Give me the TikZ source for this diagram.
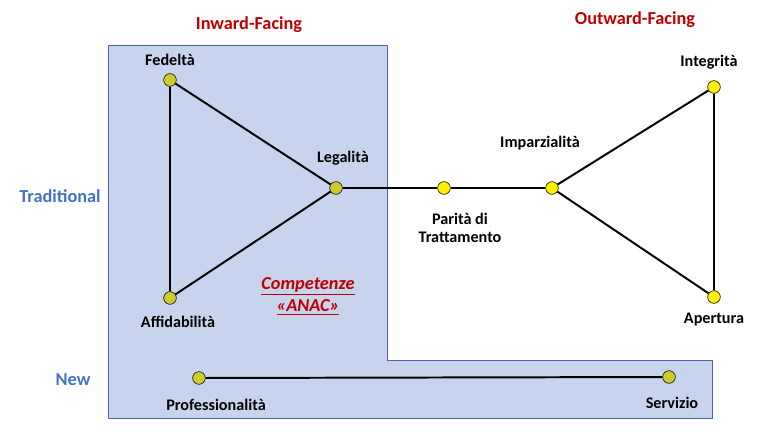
\documentclass[tikz,border=0pt]{standalone}
\usepackage{fontspec}
\setmainfont{Carlito}
\usepackage{tikz}
\usetikzlibrary{arrows.meta}
\definecolor{boxfill}{RGB}{200,212,238}
\definecolor{boxline}{RGB}{80,100,170}
\definecolor{olivedot}{RGB}{205,205,50}
\definecolor{headred}{RGB}{192,0,0}
\definecolor{rowblue}{RGB}{68,114,196}
\tikzset{
  dot/.style={circle,draw=black,thin,minimum size=9pt,inner sep=0pt},
  lbl/.style={font=\fontsize{11.5}{13}\selectfont\bfseries,align=center},
  edge/.style={line width=1.4pt}
}
\begin{document}
\begin{tikzpicture}[x=0.025cm,y=-0.025cm]
    \useasboundingbox (0,0) rectangle (768,432);

    % shaded region
    \draw[boxline,fill=boxfill] (108,45) -- (387,45) -- (387,360) -- (712,360)
        -- (712,418) -- (108,418) -- cycle;

    % headers
    \node[lbl,text=headred,font=\fontsize{13}{15}\selectfont\bfseries] (hin) at (249,25) {Inward-Facing};
    \node[lbl,text=headred,font=\fontsize{13}{15}\selectfont\bfseries] (hout) at (635,20) {Outward-Facing};
    \node[lbl,text=rowblue,font=\fontsize{13}{15}\selectfont\bfseries] (trad) at (60,196) {Traditional};
    \node[lbl,text=rowblue,font=\fontsize{13}{15}\selectfont\bfseries] (new) at (73,380) {New};
    \node[lbl,text=headred,font=\fontsize{13}{16}\selectfont\bfseries\itshape] (anac) at (308,296)
        {\underline{Competenze}\\\underline{«ANAC»}};

    % dots
    \node[dot,fill=olivedot] (fed) at (170,80) {};
    \node[dot,fill=olivedot] (leg) at (336,188) {};
    \node[dot,fill=olivedot] (aff) at (170,298) {};
    \node[dot,fill=yellow] (par) at (444,188) {};
    \node[dot,fill=yellow] (imp) at (552,188) {};
    \node[dot,fill=yellow] (int) at (714,87) {};
    \node[dot,fill=yellow] (ape) at (714,297) {};
    \node[dot,fill=olivedot] (pro) at (199,378) {};
    \node[dot,fill=olivedot] (ser) at (669,377) {};

    % connectors
    \draw[edge] (fed) -- (leg) -- (aff) -- (fed);
    \draw[edge] (leg) -- (par) -- (imp);
    \draw[edge] (imp) -- (int) -- (ape) -- (imp);
    \draw[edge] (pro) -- (ser);

    % labels
    \node[lbl] (lfed) at (170,60) {Fedeltà};
    \node[lbl] (lleg) at (343,158) {Legalità};
    \node[lbl] (laff) at (178,322) {Affidabilità};
    \node[lbl] (lpar) at (460,228) {Parità di\\Trattamento};
    \node[lbl] (limp) at (540,143) {Imparzialità};
    \node[lbl] (lint) at (709,62) {Integrità};
    \node[lbl] (lape) at (714,320) {Apertura};
    \node[lbl] (lpro) at (216,405) {Professionalità};
    \node[lbl] (lser) at (672,403) {Servizio};
\end{tikzpicture}
\end{document}
